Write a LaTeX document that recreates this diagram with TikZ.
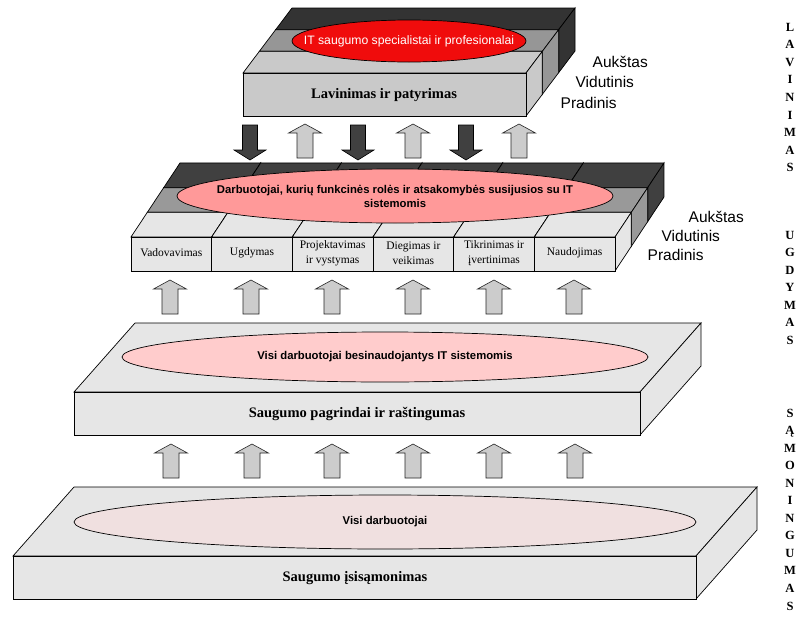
\documentclass[tikz,border=0pt]{standalone}
\usepackage{fontspec}
\setmainfont{Liberation Serif}
\newfontfamily\arialfont{Liberation Sans}
\usetikzlibrary{shapes.geometric}

\definecolor{topLight}{RGB}{201,201,201}
\definecolor{topGray}{RGB}{150,150,150}
\definecolor{topDark}{RGB}{51,51,51}
\definecolor{midLight}{RGB}{230,230,230}
\definecolor{midGray}{RGB}{153,153,153}
\definecolor{midDark}{RGB}{64,64,64}
\definecolor{baseLight}{RGB}{230,230,230}
\definecolor{ellRed}{RGB}{240,12,12}
\definecolor{ellPink}{RGB}{255,153,153}
\definecolor{ellRose}{RGB}{255,204,204}
\definecolor{ellPale}{RGB}{240,224,224}
\definecolor{arrLight}{RGB}{204,204,204}
\definecolor{arrDark}{RGB}{64,64,64}

% one block: front face (#1,#2)-(#3,#4), pushed back by (#5,#6), filled with #7
\newcommand\drawslab[7]{%
  \filldraw[fill=#7] (#1,#2) -- (#1+#5,#2-#6) -- (#3+#5,#2-#6) -- (#3,#2) -- cycle;
  \filldraw[fill=#7] (#3,#2) -- (#3+#5,#2-#6) -- (#3+#5,#4-#6) -- (#3,#4) -- cycle;
  \filldraw[fill=#7] (#1,#2) rectangle (#3,#4);
}

\tikzset{
  uparrow/.pic={\filldraw[fill=arrLight, draw=black!85, line width=0.6pt]
    (-8,0) -- (-8,-25) -- (-16.5,-25) -- (0,-34) -- (16.5,-25) -- (8,-25) -- (8,0) -- cycle;},
  downarrow/.pic={\filldraw[fill=arrDark, draw=black, line width=0.6pt]
    (-7.5,0) -- (-7.5,25) -- (-16,25) -- (0,35) -- (16,25) -- (7.5,25) -- (7.5,0) -- cycle;},
  ell/.style={ellipse, draw=black, line width=0.7pt, inner sep=0pt},
  ellfont/.style={font=\arialfont\bfseries\fontsize{11.3}{14}\selectfont, inner sep=0pt},
  fronttext/.style={font=\bfseries\fontsize{14.5}{17}\selectfont},
  celltext/.style={font=\fontsize{11.5}{14.5}\selectfont, align=center},
  levels/.style={font=\arialfont\fontsize{15.5}{18}\selectfont, anchor=base west},
  vlet/.style={font=\bfseries\fontsize{12.5}{14}\selectfont, anchor=base, inner sep=0pt},
}

\begin{document}
\begin{tikzpicture}[x=1pt, y=-1pt, line width=0.7pt, line join=miter]
\useasboundingbox (0,0) rectangle (796,624);
\fill[white] (0,0) rectangle (796,624);

% ---------- bottom layer: awareness ----------
\drawslab{13}{556}{696}{599}{61}{69}{baseLight}
\node[ell, fill=ellPale, minimum width=622pt, minimum height=54pt] (allstaff) at (385,522) {};
\node[ellfont] (allstaffText) at (allstaff.center) {Visi darbuotojai};
\node[fronttext] (awareness) at (355,578) {Saugumo įsisąmonimas};

% ---------- third layer: basics and literacy ----------
\drawslab{74}{392}{640}{435}{61}{69}{baseLight}
\node[ell, fill=ellRose, minimum width=526pt, minimum height=50pt] (itusers) at (385,357) {};
\node[ellfont] (itusersText) at (itusers.center) {Visi darbuotojai besinaudojantys IT sistemomis};
\node[fronttext] (basics) at (357,414) {Saugumo pagrindai ir raštingumas};

% ---------- second layer: six role blocks, three depth levels ----------
\foreach \lvl/\col in {2/midDark, 1/midGray, 0/midLight} {
  \foreach \c in {0,...,5} {
    \pgfmathsetmacro\xa{131+80.667*\c + 16.33*\lvl}
    \pgfmathsetmacro\xb{131+80.667*(\c+1) + 16.33*\lvl}
    \pgfmathsetmacro\ya{237-24.67*\lvl}
    \pgfmathsetmacro\yb{271-24.67*\lvl}
    \drawslab{\xa}{\ya}{\xb}{\yb}{16.33}{24.67}{\col}
  }
}
\node[ell, fill=ellPink, minimum width=436pt, minimum height=54pt] (roles) at (395,196) {};
\node[ellfont, align=center] (rolesText) at (roles.center)
  {Darbuotojai, kurių funkcinės rolės ir atsakomybės susijusios su IT\\sistemomis};
\foreach \t [count=\k] in {Vadovavimas, Ugdymas, {Projektavimas\\ir vystymas}, {Diegimas ir\\veikimas}, {Tikrinimas ir\\įvertinimas}, Naudojimas}
  \node[celltext] (cell\k) at ({131+80.667*(\k-0.5)},253) {\t};

% ---------- top layer: education and experience ----------
\drawslab{275.67}{29.67}{558.67}{72.67}{16.33}{21.67}{topDark}
\drawslab{259.33}{51.33}{542.33}{94.33}{16.33}{21.67}{topGray}
\drawslab{243}{73}{526}{116}{16.33}{21.67}{topLight}
\node[ell, fill=ellRed, minimum width=234pt, minimum height=42pt] (experts) at (409,41) {};
\node[font=\arialfont\fontsize{12.2}{14}\selectfont, text=white, inner sep=0pt] (expertsText) at (experts.center)
  {IT saugumo specialistai ir profesionalai};
\node[fronttext] (education) at (384,95) {Lavinimas ir patyrimas};

% ---------- level labels ----------
\node[levels] (hiA) at (589,67) {Aukštas};
\node[levels] (hiB) at (572,87) {Vidutinis};
\node[levels] (hiC) at (557,108) {Pradinis};
\node[levels] (midA) at (685,222) {Aukštas};
\node[levels] (midB) at (658,241) {Vidutinis};
\node[levels] (midC) at (644,260) {Pradinis};

% ---------- arrows between layers ----------
\foreach \x [count=\k] in {250,358,466} \pic (down\k) at (\x,125) {downarrow};
\foreach \x [count=\k] in {305,413,519} \pic (upA\k) at (\x,158) {uparrow};
\foreach \x [count=\k] in {170,251,332,413,494,574} \pic (upB\k) at (\x,314) {uparrow};
\foreach \x [count=\k] in {171,252,332,413,494,575} \pic (upC\k) at (\x,478) {uparrow};

% ---------- vertical stage names ----------
\foreach \ch [count=\k] in {L,A,V,I,N,I,M,A,S}
  \node[vlet] (lav\k) at (790,{31+17.6*(\k-1)}) {\ch};
\foreach \ch [count=\k] in {U,G,D,Y,M,A,S}
  \node[vlet] (ugd\k) at (790,{239+17.5*(\k-1)}) {\ch};
\foreach \ch [count=\k] in {S,Ą,M,O,N,I,N,G,U,M,A,S}
  \node[vlet] (sam\k) at (790,{417+17.55*(\k-1)}) {\ch};
\end{tikzpicture}
\end{document}
